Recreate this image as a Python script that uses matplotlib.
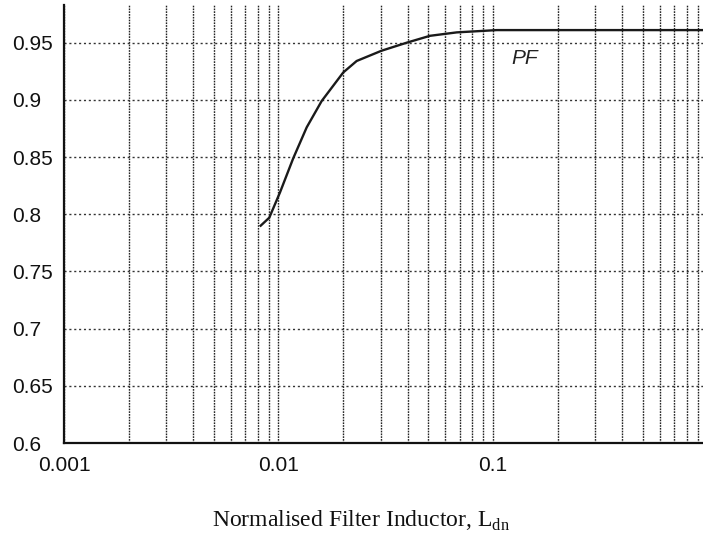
import numpy as np
import matplotlib.pyplot as plt
from matplotlib.ticker import LogLocator, NullFormatter, FixedLocator

# values
l_dn = [0.00826, 0.00906, 0.01016, 0.01172, 0.01354, 0.01590, 0.02005,
        0.02315, 0.03027, 0.03963, 0.05084, 0.06776, 0.1040, 0.2, 0.5, 0.96]
pf = [0.790, 0.797, 0.819, 0.849, 0.876, 0.899, 0.924,
      0.934, 0.943, 0.950, 0.956, 0.959, 0.961, 0.961, 0.961, 0.961]

x_ticks = [0.001, 0.01, 0.1]
x_labels = ["0.001", "0.01", "0.1"]
y_ticks = [0.6, 0.65, 0.7, 0.75, 0.8, 0.85, 0.9, 0.95]
y_labels = ["0.6", "0.65", "0.7", "0.75", "0.8", "0.85", "0.9", "0.95"]

plt.rcParams['font.family'] = ['Liberation Sans', 'DejaVu Sans']

fig = plt.figure(figsize=(7.03, 5.48), dpi=100)
ax = fig.add_axes([0.091, 0.1916, 0.909, 0.7994])

ax.plot(l_dn, pf, color="#1a1a1a", lw=1.7, solid_joinstyle="round")

ax.set_xscale("log")
ax.set_xlim(0.001, 0.953)
ax.set_ylim(0.6, 0.983)

ax.xaxis.set_major_locator(FixedLocator(x_ticks))
ax.set_xticklabels(x_labels)
ax.xaxis.set_minor_locator(LogLocator(base=10, subs=np.arange(2, 10)))
ax.xaxis.set_minor_formatter(NullFormatter())
ax.set_yticks(y_ticks)
ax.set_yticklabels(y_labels)

for spine in ["top", "right"]:
    ax.spines[spine].set_visible(False)
for spine in ["left", "bottom"]:
    ax.spines[spine].set_linewidth(1.6)
    ax.spines[spine].set_color("#111111")

ax.tick_params(axis="both", which="both", length=0, labelsize=15, colors="#111111")
ax.tick_params(axis="x", pad=9)
ax.tick_params(axis="y", pad=37)
for lab in ax.get_yticklabels():
    lab.set_horizontalalignment("left")

# grid: dense vertical lines, dotted horizontal lines
ax.grid(True, axis="x", which="both", color="#222222", lw=1.0, ls=(0, (1.2, 0.8)))
ax.grid(True, axis="y", which="major", color="#333333", lw=1.0, ls=(0, (1.5, 2.0)))

ax.text(0.122, 0.931, "PF", fontsize=15, style="italic", color="#222222",
        va="baseline")

fig.text(0.514, 0.038, "Normalised Filter Inductor, L$_{\\mathregular{dn}}$",
         ha="center", va="baseline", fontsize=17, family="Liberation Serif",
         color="#111111")

fig.savefig("out.png", dpi=100)
